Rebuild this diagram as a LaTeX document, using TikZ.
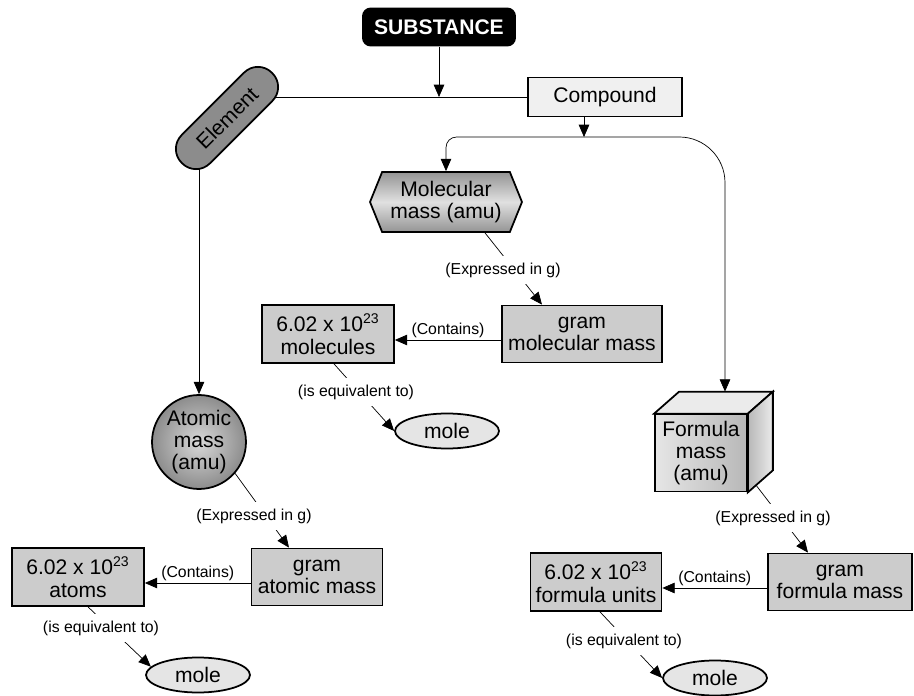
\documentclass[tikz,border=0pt]{standalone}
\usepackage{fontspec}
\setmainfont{Liberation Sans}
\usetikzlibrary{shapes.geometric, shapes.symbols, arrows.meta, calc, backgrounds}

\begin{document}
\begin{tikzpicture}[
    x=0.02cm, y=-0.02cm,
    line width=1pt,
    arr/.style={-{Triangle[length=7pt, width=6pt]}},
    box/.style={rectangle, draw, fill=black!20, align=center, inner sep=1pt,
                font=\fontsize{12}{13}\selectfont},
    mole/.style={ellipse, draw, fill=black!10, inner sep=0pt, minimum width=2.08cm,
                 minimum height=0.7cm, font=\fontsize{12}{13}\selectfont},
    note/.style={inner xsep=1pt, inner ysep=1pt, font=\fontsize{9}{10}\selectfont},
    gap/.style={note, fill=white, inner ysep=4pt}
]
    \useasboundingbox (0,0) rectangle (914,696);

    % Top
    \node[rectangle, rounded corners=5pt, fill=black, text=white, minimum width=3.08cm,
          minimum height=0.78cm, font=\bfseries\fontsize{12}{13}\selectfont] (substance) at (439,27) {SUBSTANCE};
    \node[box, fill=black!6, minimum width=3.08cm, minimum height=0.78cm] (compound) at (605,97) {Compound};
    \node[rectangle, draw, fill=black!45, rounded corners=0.39cm, rotate=45, minimum width=2.55cm,
          minimum height=0.8cm, font=\fontsize{12}{13}\selectfont] (element) at (227,118) {Element};
    \coordinate (split) at (584,137);

    % Compound: molecular mass
    \node[signal, signal to=west and east, signal pointer angle=136, draw, top color=black!42,
          bottom color=black!42, middle color=black!12, minimum width=3.04cm, minimum height=1.2cm,
          inner sep=1pt, align=center, font=\fontsize{12}{13}\selectfont] (molecular) at (446,202) {Molecular\\mass (amu)};
    \node[gap] (expM) at (503,270) {(Expressed in g)};
    \node[box, minimum width=3.2cm, minimum height=1.14cm] (gmm) at (582,334) {gram\\molecular mass};
    \node[box, minimum width=2.64cm, minimum height=1.16cm] (molec) at (328,334) {6.02 x 10\textsuperscript{23}\\molecules};
    \node[gap] (eqM) at (356,392) {(is equivalent to)};
    \node[mole] (mole1) at (447,431) {mole};

    % Element: atomic mass
    \node[circle, draw, inner color=black!15, outer color=black!45, minimum size=1.88cm, inner sep=0pt,
          align=center, font=\fontsize{12}{12.5}\selectfont] (atomic) at (199,442) {Atomic\\mass\\(amu)};
    \node[gap] (expA) at (254,516) {(Expressed in g)};
    \node[box, minimum width=2.62cm, minimum height=1.14cm] (gam) at (317,577) {gram\\atomic mass};
    \node[box, minimum width=2.64cm, minimum height=1.16cm] (atoms) at (78,577) {6.02 x 10\textsuperscript{23}\\atoms};
    \node[gap] (eqA) at (101,628) {(is equivalent to)};
    \node[mole] (mole2) at (198,675) {mole};

    % Compound: formula mass (cube)
    \node[box, left color=black!10, right color=black!28, minimum width=1.84cm, minimum height=1.54cm,
          font=\fontsize{12}{12.5}\selectfont] (formula) at (701,453) {Formula\\mass\\(amu)};
    \draw[fill=black!8] (formula.north west) -- ++(25,-22) -- ($(formula.north east)+(25,-22)$)
        -- (formula.north east) -- cycle;
    \draw[left color=black!28, right color=black!8] (formula.north east) -- ++(25,-22)
        -- ($(formula.south east)+(25,-22)$) -- (formula.south east) -- cycle;
    \node[gap] (expF) at (773,518) {(Expressed in g)};
    \node[box, minimum width=2.88cm, minimum height=1.14cm] (gfm) at (840,582) {gram\\formula mass};
    \node[box, minimum width=2.62cm, minimum height=1.16cm] (fu) at (596,582) {6.02 x 10\textsuperscript{23}\\formula units};
    \node[gap] (eqF) at (624,641) {(is equivalent to)};
    \node[mole] (mole3) at (715,678) {mole};

    % Connectors
    \begin{scope}[on background layer]
        \fill[white] (0,0) rectangle (914,696);
        \draw[arr] (substance) -- (substance |- compound);
        \draw (element.center |- compound) -- (compound.west);
        \draw[arr] (compound.south -| split) -- (split);
        \draw[arr, rounded corners=6pt] (split) -| (molecular.north);
        \draw[arr, rounded corners=26pt] (split) -| ($(formula.north)+(24,-22)$);
        \draw[arr] (element.center -| atomic.north) -- (atomic.north);

        \draw[arr] ($(molecular.south)+(39,0)$) -- ($(gmm.north)+(-40,0)$);
        \draw[arr] ($(gmm.west)+(0,6)$) -- node[note, above] {(Contains)} ($(molec.east)+(0,6)$);
        \draw[arr] ($(molec.south)+(6,0)$) -- (mole1.west);

        \draw[arr] (atomic.-41) -- ($(gam.north)+(-28,0)$);
        \draw[arr] ($(gam.west)+(0,6)$) -- node[note, above] {(Contains)} ($(atoms.east)+(0,6)$);
        \draw[arr] ($(atoms.south)+(10,0)$) -- (mole2.170);

        \draw[arr] ($(formula.south east)+(6,-10)$) -- ($(gfm.north)+(-32,0)$);
        \draw[arr] ($(gfm.west)+(0,6)$) -- node[note, above] {(Contains)} ($(fu.east)+(0,6)$);
        \draw[arr] ($(fu.south)+(4,0)$) -- (mole3.west);
    \end{scope}
\end{tikzpicture}
\end{document}
